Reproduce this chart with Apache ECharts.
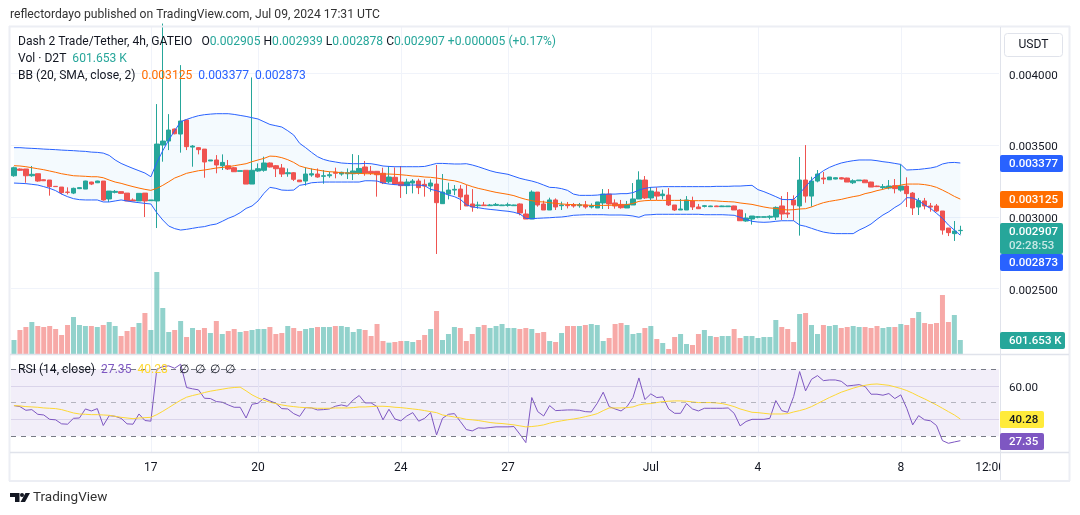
<!DOCTYPE html>
<html><head><meta charset="utf-8">
<script src="https://cdn.jsdelivr.net/npm/echarts@6/dist/echarts.min.js"></script>
<style>html,body{margin:0;padding:0;background:#fff}#c{width:1080px;height:515px}</style></head>
<body><div id="c"></div>
<script>
// Prices in millionths of a USDT
const opens=[3288,3335,3335,3288,3302,3260,3258,3214,3209,3174,
3167,3198,3195,3244,3239,3251,3126,3172,3177,3167,
3119,3112,3167,3114,3112,3502,3530,3614,3579,3677,
3488,3484,3474,3391,3398,3358,3358,3344,3319,3326,
3230,3321,3326,3377,3358,3342,3302,3309,3258,3251,
3293,3300,3284,3288,3312,3300,3302,3302,3305,3349,
3319,3319,3305,3246,3277,3244,3219,3237,3251,3228,
3216,3230,3093,3160,3188,3195,3153,3091,3079,3084,
3079,3081,3079,3081,3079,3091,3021,2986,3174,3091,
3049,3119,3079,3084,3086,3079,3084,3070,3063,3098,
3160,3098,3088,3063,3084,3126,3258,3133,3174,3149,
3153,3084,3049,3049,3112,3070,3074,3072,3077,3072,
3072,3077,3049,2972,2986,2998,2998,2998,3000,3077,
3028,3119,3077,3258,3146,3251,3272,3260,3265,3274,
3272,3239,3253,3258,3244,3216,3205,3202,3219,3188,
3216,3167,3070,3112,3077,3077,3042,2923,2884,2905];
const highs=[3351,3339,3335,3356,3302,3262,3258,3214,3209,3207,
3205,3207,3253,3246,3253,3251,3181,3188,3179,3167,
3130,3165,3167,3119,3788,4350,3718,3618,4060,3677,
3502,3488,3474,3398,3432,3437,3398,3349,3323,3326,
3974,3374,3421,3381,3363,3370,3339,3314,3258,3346,
3339,3339,3328,3316,3344,3316,3339,3439,3432,3391,
3356,3321,3344,3356,3346,3356,3267,3265,3267,3263,
3263,3363,3300,3239,3223,3223,3223,3195,3107,3105,
3091,3098,3086,3100,3086,3095,3053,3186,3174,3114,
3135,3130,3107,3105,3098,3098,3112,3095,3105,3195,
3195,3123,3119,3112,3237,3319,3286,3209,3207,3191,
3202,3084,3126,3146,3142,3091,3084,3079,3079,3079,
3077,3079,3053,3026,3007,3007,3002,3012,3074,3146,
3174,3151,3419,3502,3281,3328,3314,3279,3277,3279,
3274,3263,3258,3260,3246,3219,3230,3258,3265,3367,
3277,3174,3133,3133,3098,3091,3042,2923,2972,2939];
const lows=[3281,3321,3239,3281,3246,3251,3149,3212,3158,3158,
3160,3195,3195,3223,3237,3114,3105,3165,3163,3112,
3112,3112,3000,3112,2923,3386,3467,3577,3449,3467,
3351,3437,3274,3391,3305,3328,3328,3314,3319,3230,
3230,3316,3316,3346,3279,3279,3281,3251,3244,3219,
3281,3274,3232,3274,3270,3288,3265,3258,3296,3288,
3293,3142,3230,3235,3223,3133,3160,3165,3160,3142,
3177,2742,3091,3123,3153,3049,3077,3037,3058,3077,
3077,3077,3079,3072,3077,3012,2986,2986,3072,3049,
3049,3049,3049,3060,3065,3065,3058,3060,3063,3056,
3056,3058,3058,3063,3084,3126,3126,3119,3119,3123,
3077,3042,3049,3049,3049,3056,3067,3072,3072,3070,
3072,3049,2974,2967,2947,2991,2998,2984,2979,2979,
2993,2974,2870,3100,3072,3242,3230,3258,3263,3263,
3244,3230,3253,3239,3209,3209,3193,3193,3165,3177,
3070,3014,3014,3053,3037,3035,2877,2867,2833,2878];
const closes=[3344,3326,3288,3298,3251,3253,3212,3212,3170,3172,
3200,3205,3251,3230,3251,3119,3181,3179,3165,3112,
3112,3165,3112,3119,3509,3530,3607,3581,3670,3491,
3495,3470,3384,3398,3363,3381,3335,3316,3323,3230,
3326,3337,3377,3349,3337,3300,3309,3263,3246,3300,
3302,3279,3288,3295,3305,3312,3309,3321,3339,3307,
3305,3295,3239,3279,3230,3219,3244,3251,3205,3216,
3237,3100,3174,3188,3193,3140,3077,3070,3084,3079,
3084,3088,3084,3086,3084,3028,2986,3174,3084,3049,
3119,3070,3084,3079,3077,3086,3070,3079,3105,3160,
3091,3077,3065,3088,3126,3258,3133,3181,3146,3160,
3084,3049,3056,3119,3070,3058,3079,3077,3072,3077,
3077,3049,2974,2993,3007,3002,3002,3005,3067,3021,
3021,3084,3258,3146,3251,3300,3265,3279,3274,3265,
3244,3253,3258,3239,3209,3212,3212,3216,3198,3216,
3163,3063,3114,3077,3070,3042,2909,2891,2902,2907];
const bbUpper=[3484,3484,3481,3479,3477,3474,3472,3470,3467,3465,
3463,3460,3458,3453,3451,3446,3430,3398,3374,3356,
3339,3323,3307,3281,3379,3463,3537,3602,3665,3681,
3695,3707,3714,3718,3721,3721,3721,3716,3709,3702,
3693,3684,3665,3646,3637,3628,3602,3572,3514,3484,
3451,3421,3402,3391,3384,3377,3374,3372,3372,
3374,3372,3365,3356,3353,3351,3351,3351,3351,3351,
3353,3363,3374,3374,3372,3370,3370,3372,3363,3351,
3337,3323,3312,3305,3298,3284,3270,3260,3251,3239,
3223,3207,3205,3198,3186,3160,3151,3151,3151,3153,
3158,3160,3160,3163,3163,3170,3188,3200,3207,3209,
3212,3212,3212,3212,3212,3212,3212,
3212,3212,3214,3214,3214,3216,3216,3219,3221,3191,
3177,3160,3142,3123,3121,3123,3165,3212,3258,3293,
3323,3346,3363,3377,3386,3393,3398,3398,3398,3393,
3386,3381,3374,3367,3328,3330,3332,3337,3342,3351,
3370,3379,3381,3377];
const bbLower=[3237,3235,3233,3228,3223,3212,3200,3184,3160,3142,
3128,3121,3119,3119,3119,3105,3105,3112,3119,3112,
3105,3100,3095,3091,3030,2979,2937,2919,2909,2914,
2921,2928,2933,2944,2951,2970,2991,3007,3030,3060,
3077,3112,3165,3207,3200,3188,3186,3188,3221,3228,
3239,3242,3244,3244,3244,3244,3244,3244,3244,
3253,3253,3251,3237,3230,3226,3223,3223,3223,3223,
3219,3193,3184,3170,3153,3142,3123,3086,3070,3065,
3058,3053,3049,3044,3040,3033,3021,2991,2988,2991,
2993,2995,2998,3000,3005,3012,3014,3016,3016,3016,
3016,3014,3014,3014,3012,3007,2998,3014,3016,3019,
3019,3019,3019,3019,3019,3019,3019,
3016,3016,3016,3016,3014,3012,2998,2984,2970,2965,
2963,2965,2970,2974,2974,2974,2944,2935,2921,2907,
2895,2888,2884,2884,2884,2884,2909,2928,2951,2984,
3014,3037,3067,3091,3135,3133,3114,3084,3060,3026,
2991,2944,2909,2873];
const bbBasis=[3358,3356,3351,3344,3337,3330,3321,3312,3302,3295,
3288,3286,3284,3281,3281,3274,3258,3244,3235,3223,
3212,3202,3193,3186,3200,3221,3246,3272,3288,3305,
3314,3323,3328,3335,3342,3346,3351,3358,3365,3372,
3386,3398,3409,3425,3423,3414,3400,3381,3356,3344,
3335,3328,3321,3316,3314,3309,3307,3305,3305,
3302,3302,3300,3300,3300,3298,3295,3291,3286,3284,
3279,3277,3272,3265,3258,3253,3242,3226,3212,3200,
3191,3181,3172,3165,3158,3149,3135,3123,3114,3107,
3105,3100,3095,3091,3088,3086,3084,3084,3081,3081,
3081,3081,3084,3084,3086,3095,3109,3114,3116,3116,
3116,3116,3116,3116,3116,3114,3114,
3114,3114,3112,3109,3107,3105,3098,3093,3088,3079,
3070,3063,3060,3053,3049,3051,3056,3058,3070,3086,
3100,3109,3116,3123,3133,3142,3149,3163,3172,3184,
3193,3205,3212,3223,3230,3230,3230,3226,3219,3207,
3188,3167,3144,3125];
// Volume in thousands of D2T
const volumes=[601,1030,1158,1373,1201,1158,1201,1073,815,1244,
1587,1244,1201,1201,1158,1244,1373,1201,772,987,
1158,1330,1759,1030,3518,1973,944,1030,1416,729,
1115,1030,1115,901,1416,858,987,1073,944,987,
1030,1073,1073,1158,858,901,1201,1115,987,1073,
1115,1158,1158,1158,1201,1201,1158,944,1073,
1030,772,1287,558,486,515,558,558,515,601,
815,1073,1845,601,858,1158,1115,558,858,1158,
1244,1115,1201,1287,1115,1115,1073,1115,1073,901,
944,558,515,901,1201,1201,1201,1244,1287,1244,
558,686,1287,1330,1244,858,901,1115,1201,644,
472,215,729,858,429,386,858,
1030,772,729,772,772,1073,686,772,772,686,
729,729,1459,1158,1073,515,1716,1759,1244,858,
1244,1201,1244,1115,1158,1201,1158,1158,1115,1201,
1115,1158,1158,1287,1244,1544,1802,1330,1287,1330,
2531,1373,1673,601.653];
const rsi=[48.3,47.7,45.5,45.9,43.1,42.7,40.1,39.8,37.4,37.2,
40.7,40.9,46.3,45.1,46.5,36.4,42.3,41.9,40.7,37.4,
37.2,43.3,39.4,39.0,70.0,71.6,72.0,70.6,73.0,59.1,
58.3,57.7,52.7,52.5,50.7,50.3,48.7,47.3,47.3,40.9,
49.1,49.7,52.7,51.1,49.7,46.5,46.3,43.5,41.9,47.1,
46.9,45.7,45.9,46.3,47.9,48.7,47.9,51.7,54.3,
49.9,49.9,47.7,39.8,46.1,40.3,39.2,42.1,44.1,39.0,
40.7,44.1,30.8,40.7,43.1,43.5,38.8,34.0,33.2,35.0,
34.8,35.2,35.6,35.6,35.6,35.8,31.2,26.2,53.1,44.7,
42.1,48.3,45.3,45.5,45.7,45.7,45.5,44.7,44.5,49.7,
56.3,47.7,46.3,45.1,47.7,53.1,64.8,51.9,55.3,53.1,
53.5,46.3,43.7,43.7,49.5,46.3,45.1,
46.7,46.7,46.7,46.7,46.9,43.7,36.2,38.8,40.1,40.1,
40.1,40.7,51.3,45.3,44.3,53.7,68.6,57.1,64.0,66.2,
63.2,63.6,63.6,62.8,60.0,60.4,60.8,59.7,55.1,55.1,
54.5,55.5,52.5,54.7,46.7,36.8,42.3,39.8,39.2,36.4,
27.4,25.8,26.6,27.35];
const rsiMa=[48.3,48.1,47.7,47.5,47.3,46.9,46.7,46.5,45.9,44.9,
43.9,43.3,43.1,42.9,42.9,42.7,42.5,41.9,41.3,40.9,
40.5,40.9,41.1,41.3,42.9,44.9,47.1,49.3,51.5,53.3,
54.3,55.1,56.1,56.9,57.5,58.1,58.7,59.1,59.3,57.1,
54.7,52.9,51.5,50.3,49.5,48.7,48.1,47.7,47.3,47.1,
46.9,46.7,46.7,46.7,46.9,46.9,46.9,47.1,47.5,
47.5,47.7,47.9,47.9,47.7,47.3,47.1,46.7,46.3,45.9,
45.3,44.7,44.1,42.7,42.1,41.5,40.9,40.1,39.8,39.4,
38.8,38.2,37.8,37.6,37.2,36.8,36.2,35.6,35.8,36.2,
36.8,37.8,38.6,39.2,39.8,40.3,40.9,41.7,42.5,43.5,
45.3,46.9,46.9,46.9,47.1,47.5,48.7,49.3,49.5,50.1,
50.7,50.9,51.1,51.1,50.9,50.5,50.1,
50.1,50.1,49.9,49.5,48.7,47.7,46.3,45.3,44.3,44.1,
43.7,43.3,43.3,43.3,43.5,44.5,45.3,46.3,47.7,49.5,
51.3,53.1,54.7,56.3,57.5,58.7,59.7,60.4,61.0,61.2,
60.8,60.4,59.5,58.5,57.3,55.7,53.9,52.3,50.5,48.7,
46.7,44.7,42.7,40.28];
const slotCount=166;
const dayTicks={23:'17',41:'20',65:'24',83:'27',107:'Jul',125:'4',149:'8',164:'12:00'};
const priceTicks=[2500,3000,3500,4000];
const rsiTicks=[40,60];
const rsiBands=[70,50,30];

const UP='#26a69a',DOWN='#ef5350';
const FONT='Roboto, "Open Sans", sans-serif';
const categories=Array.from({length:slotCount},(_,i)=>dayTicks[i]||'');
const candle=opens.map((o,i)=>[o,closes[i],lows[i],highs[i]]);
const isUp=i=>closes[i]>=opens[i];
const vol=volumes.map((v,i)=>({value:v,itemStyle:{color:isUp(i)?'rgba(38,166,154,.5)':'rgba(239,83,80,.5)'}}));
const bandDiff=bbUpper.map((u,i)=>u-bbLower[i]);
const isDay=i=>!!categories[i]&&categories[i]!=='12:00';
const line=(name,data,color,xi,yi,z)=>({name,type:'line',data,xAxisIndex:xi,yAxisIndex:yi,z,showSymbol:false,symbol:'none',silent:true,
  lineStyle:{color,width:1}});
const xAxisCommon={type:'category',data:categories,boundaryGap:true,axisLine:{show:false},axisTick:{show:false},
  splitLine:{show:true,alignWithLabel:true,interval:i=>isDay(i),lineStyle:{color:'#f0f3fa',width:1}}};

const chart=echarts.init(document.getElementById('c'),null,{renderer:'canvas'});
const F='12.1px '+FONT, TAGF='500 11.5px '+FONT;
const T=(x,y,text,o={})=>({type:'text',x,y,z:100,silent:true,style:Object.assign({text,fill:'#131722',font:F,textVerticalAlign:'middle'},o)});
const tag=(x,y,w,h,color,text,fg)=>[
 {type:'rect',z:101,silent:true,shape:{x,y,width:w,height:h,r:2},style:{fill:color}},
 Object.assign(T(9+x,y+h/2+1,text,{fill:fg||'#fff',textAlign:'left',font:TAGF}),{z:102})];
const L=(x1,y1,x2,y2,w,c)=>({type:'line',z:99,silent:true,shape:{x1,y1,x2,y2},style:{stroke:c||'#e0e3eb',lineWidth:w||1}});
const FR='#eceef4';
const rich={d:{fill:'#131722',font:F},t:{fill:UP,font:F},o:{fill:'#ff6d00',font:F},b:{fill:'#2962ff',font:F},p:{fill:'#7e57c2',font:F},y:{fill:'#fdd835',font:F}};
const graphics=[
 T(10,15,'reflectordayo published on TradingView.com, Jul 09, 2024 17:31 UTC',{fill:'#333',font:'12.16px '+FONT}),
 T(18,42,'{d|Dash 2 Trade/Tether, 4h, GATEIO   O}{t|0.002905} {d|H}{t|0.002939} {d|L}{t|0.002878} {d|C}{t|0.002907 +0.000005 (+0.17%)}',{rich}),
 T(18,59,'{d|Vol · D2T}  {t|601.653 K}',{rich}),
 T(18,76,'{d|BB (20, SMA, close, 2)}  {o|0.003125}  {b|0.003377}  {b|0.002873}',{rich}),
 T(18,369.5,'{d|RSI (14, close)}  {p|27.35}  {y|40.28}',{rich}),
 T(179,369.5,'∅'),T(195,369.5,'∅'),T(210,369.5,'∅'),T(225,369.5,'∅'),
 {type:'rect',z:98,silent:true,shape:{x:1001,y:453,width:67,height:27},style:{fill:'#fff'}},
 L(9,26.5,1070,26.5,2,FR),L(9.5,26,9.5,481,2,FR),L(1069.5,26,1069.5,481,2,FR),L(9,481,1070,481,2,FR),
 L(1000.5,27,1000.5,480,1),L(10,354.5,1069,354.5,1.5),L(10,452.5,1069,452.5,1.5),
 {type:'rect',z:100,silent:true,shape:{x:1004.5,y:33.5,width:58,height:23,r:3},style:{fill:'#fff',stroke:'#e0e3eb'}},
 Object.assign(T(1033.5,45,'USDT',{textAlign:'center'}),{z:101}),
 ...tag(1000,155,63,17,'#2962ff','0.003377'),
 ...tag(1000,191,63,17,'#ff6d00','0.003125'),
 ...tag(1000,223,63,31,UP,''),
 Object.assign(T(1009,232,'0.002907',{fill:'#fff',font:TAGF}),{z:103}),
 Object.assign(T(1009,246,'02:28:53',{fill:'rgba(255,255,255,.75)',font:TAGF}),{z:103}),
 ...tag(1000,254,63,17,'#2962ff','0.002873'),
 ...tag(1000,332,65,17,UP,'601.653 K'),
 ...tag(1000,411,44,17,'#ffeb3b','40.28','#131722'),
 ...tag(1000,433,44,17,'#7e57c2','27.35'),
 {type:'polygon',z:100,silent:true,shape:{points:[[10,493],[19.5,493],[19.5,502],[15,502],[15,497],[10,497]]},style:{fill:'#131722'}},
 {type:'circle',z:100,silent:true,shape:{cx:22,cy:495,r:2},style:{fill:'#131722'}},
 {type:'polygon',z:100,silent:true,shape:{points:[[25.5,493],[30,493],[25,502],[20.5,502]]},style:{fill:'#131722'}},
 T(33,497.5,'TradingView',{fill:'#333',font:'13.5px '+FONT})
];
const axisRich={a:{color:'#131722',fontSize:11.6,fontFamily:FONT,padding:[4,0,0,0]}};

chart.setOption({
 animation:false,backgroundColor:'#fff',
 grid:[{left:11,top:27,width:988,height:327,containLabel:false},{left:11,top:355,width:988,height:97,containLabel:false}],
 xAxis:[Object.assign({gridIndex:0,axisLabel:{show:false}},xAxisCommon),
  Object.assign({gridIndex:1,axisLabel:{show:true,interval:i=>!!categories[i],color:'#131722',fontSize:12,fontFamily:FONT,margin:10}},xAxisCommon)],
 yAxis:[
  {gridIndex:0,type:'value',position:'right',min:2044,max:4326,axisLine:{show:false},
   axisTick:{show:false,customValues:priceTicks},
   axisLabel:{customValues:priceTicks,margin:10,rich:axisRich,formatter:v=>'{a|'+(v/1e6).toFixed(6)+'}'},
   splitLine:{show:true,lineStyle:{color:'#f0f3fa',width:1}}},
  {gridIndex:0,type:'value',min:0,max:14030,show:false,splitLine:{show:false}},
  {gridIndex:1,type:'value',position:'right',min:20.6,max:78.5,axisLine:{show:false},
   axisTick:{show:false,customValues:rsiTicks},
   axisLabel:{customValues:rsiTicks,margin:10,rich:axisRich,formatter:v=>'{a|'+v.toFixed(2)+'}'},
   splitLine:{show:true,lineStyle:{color:'#e5e3ef',width:1}}}],
 series:[
  {name:'Volume',type:'bar',data:vol,xAxisIndex:0,yAxisIndex:1,barWidth:5,z:1,silent:true},
  {name:'bandBase',type:'line',data:bbLower,xAxisIndex:0,yAxisIndex:0,stack:'bb',z:1,showSymbol:false,symbol:'none',silent:true,lineStyle:{opacity:0,width:0}},
  {name:'bandFill',type:'line',data:bandDiff,xAxisIndex:0,yAxisIndex:0,stack:'bb',z:1,showSymbol:false,symbol:'none',silent:true,lineStyle:{opacity:0,width:0},areaStyle:{color:'rgba(33,150,243,.05)',opacity:1}},
  {name:'Price',type:'candlestick',data:candle,xAxisIndex:0,yAxisIndex:0,barWidth:5,z:2,silent:true,
   itemStyle:{color:UP,color0:DOWN,borderColor:UP,borderColor0:DOWN,borderColorDoji:UP,borderWidth:1}},
  line('BB upper',bbUpper,'#2962ff',0,0,3),
  line('BB lower',bbLower,'#2962ff',0,0,3),
  line('BB basis',bbBasis,'#ff6d00',0,0,3),
  Object.assign(line('RSI',rsi,'#7e57c2',1,2,4),{
   markArea:{silent:true,itemStyle:{color:'rgba(126,87,194,.1)'},data:[[{yAxis:rsiBands[0]},{yAxis:rsiBands[2]}]]},
   markLine:{silent:true,symbol:'none',label:{show:false},data:[
    {yAxis:rsiBands[0],lineStyle:{color:'#787b86',type:[5,5],width:1}},
    {yAxis:rsiBands[1],lineStyle:{color:'rgba(120,123,134,.5)',type:[5,5],width:1}},
    {yAxis:rsiBands[2],lineStyle:{color:'#787b86',type:[5,5],width:1}}]}}),
  line('RSI MA',rsiMa,'#fdd835',1,2,4)
 ],
 graphic:{elements:graphics}
});
</script></body></html>
